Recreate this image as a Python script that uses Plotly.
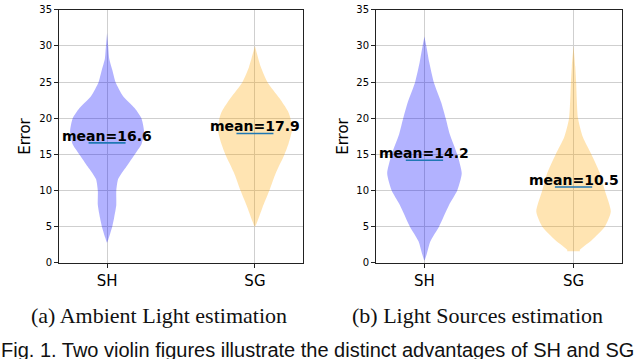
import plotly.graph_objects as go

categories = ["SH", "SG"]

# violin outlines: error level and relative density (1 = widest)
amb_sh_y = [2.8, 3.5, 5, 6.2, 8, 10, 11.6, 13.3, 15, 16.4, 18.2, 20, 21.4, 23.1, 25, 26.7, 28.2, 30, 31.8]
amb_sh_d = [0, 0.05, 0.14, 0.19, 0.25, 0.25, 0.30, 0.52, 0.75, 0.93, 1.0, 0.93, 0.75, 0.43, 0.23, 0.14, 0.06, 0.03, 0]
amb_sg_y = [5, 5.8, 7.6, 10, 12.5, 15, 16.5, 18.3, 20, 21, 22.8, 25, 27.1, 30]
amb_sg_d = [0, 0.07, 0.2, 0.39, 0.57, 0.8, 0.91, 1.0, 0.96, 0.89, 0.66, 0.34, 0.16, 0]

src_sh_y = [0.35, 1.2, 3, 5, 8, 10, 12.4, 15, 17.8, 20, 22.2, 25, 27.7, 30, 31.3]
src_sh_d = [0, 0.06, 0.16, 0.39, 0.66, 0.88, 1.0, 0.88, 0.68, 0.57, 0.45, 0.25, 0.13, 0.05, 0]
src_sg_y = [1.6, 1.8, 3.1, 5, 7.1, 10, 12.5, 15, 17.4, 20, 25, 27.2, 30]
src_sg_d = [0.17, 0.17, 0.48, 0.84, 1.0, 0.84, 0.70, 0.48, 0.25, 0.12, 0.07, 0.045, 0]

amb_means = [16.6, 17.9]
src_means = [14.2, 10.5]

captions = ["(a) Ambient Light estimation", "(b) Light Sources estimation"]
fig_caption = "Fig. 1. Two violin figures illustrate the distinct advantages of SH and SG"

colors = ["rgba(0,0,255,0.3)", "rgba(255,165,0,0.3)"]
half = 0.25

fig = go.Figure()


def add_violin(pos, ys, ds, color, xa, ya):
    xs = [pos + half * d for d in ds] + [pos - half * d for d in reversed(ds)]
    yy = list(ys) + list(reversed(ys))
    fig.add_trace(go.Scatter(x=xs, y=yy, fill="toself", fillcolor=color, mode="lines",
                             line=dict(width=0, shape="spline", smoothing=0.6),
                             xaxis=xa, yaxis=ya, hoverinfo="skip", showlegend=False))


panels = [
    ("x", "y", [(amb_sh_y, amb_sh_d), (amb_sg_y, amb_sg_d)], amb_means),
    ("x2", "y2", [(src_sh_y, src_sh_d), (src_sg_y, src_sg_d)], src_means),
]

for xa, ya, violins, means in panels:
    for i, (ys, ds) in enumerate(violins):
        add_violin(i + 1, ys, ds, colors[i], xa, ya)
    for i, m in enumerate(means):
        fig.add_trace(go.Scatter(x=[i + 1 - 0.125, i + 1 + 0.125], y=[m, m], mode="lines",
                                 line=dict(color="#1f77b4", width=1.6),
                                 xaxis=xa, yaxis=ya, hoverinfo="skip", showlegend=False))
        fig.add_annotation(x=i + 1, y=m, xref=xa, yref=ya, text="<b>mean=%.1f</b>" % m,
                           showarrow=False, xanchor="center", yanchor="bottom", yshift=-3,
                           font=dict(family="DejaVu Sans", size=14, color="black"))

W, H = 640, 359
ax_common = dict(range=[0.675, 2.325], tickvals=[1, 2], ticktext=categories,
                 showgrid=True, gridcolor="#cfcfcf", gridwidth=1,
                 showline=True, linecolor="#222", linewidth=1, mirror=True,
                 ticks="outside", ticklen=4, tickcolor="#222",
                 tickfont=dict(family="DejaVu Sans", size=15, color="black"), zeroline=False)
ay_common = dict(range=[0, 35.001], tickvals=[0, 5, 10, 15, 20, 25, 30, 35],
                 showgrid=True, gridcolor="#cfcfcf", gridwidth=1,
                 showline=True, linecolor="#222", linewidth=1, mirror=True,
                 ticks="outside", ticklen=4, tickcolor="#222", ticklabeloverflow="allow",
                 tickfont=dict(family="DejaVu Sans", size=10, color="black"), zeroline=False)

fig.update_layout(
    width=W, height=H, margin=dict(l=0, r=0, t=0, b=0),
    plot_bgcolor="white", paper_bgcolor="white",
    xaxis=dict(domain=[59 / W, 303 / W], anchor="y", **ax_common),
    yaxis=dict(domain=[1 - 266 / H, 1 - 5 / H], anchor="x", **ay_common),
    xaxis2=dict(domain=[376 / W, 622 / W], anchor="y2", **ax_common),
    yaxis2=dict(domain=[1 - 266 / H, 1 - 5 / H], anchor="x2", **ay_common),
)

for xpx in [25, 343]:
    fig.add_annotation(x=xpx / W, y=1 - 136 / H, xref="paper", yref="paper", text="Error",
                       textangle=-90, showarrow=False, xanchor="center", yanchor="middle",
                       font=dict(family="DejaVu Sans", size=15, color="black"))

for xpx, cap in zip([158.5, 477.5], captions):
    fig.add_annotation(x=xpx / W, y=1 - 320 / H, xref="paper", yref="paper", text=cap,
                       showarrow=False, xanchor="center", yanchor="middle",
                       font=dict(family="Liberation Serif", size=22, color="#111"))

fig.add_annotation(x=-1 / W, y=1 - 343 / H, xref="paper", yref="paper", text=fig_caption,
                   showarrow=False, xanchor="left", yanchor="top",
                   font=dict(family="Liberation Sans", size=20, color="#111"))

fig.write_html("out.html", config={"displayModeBar": False},
               post_script="document.body.style.margin='0';")
